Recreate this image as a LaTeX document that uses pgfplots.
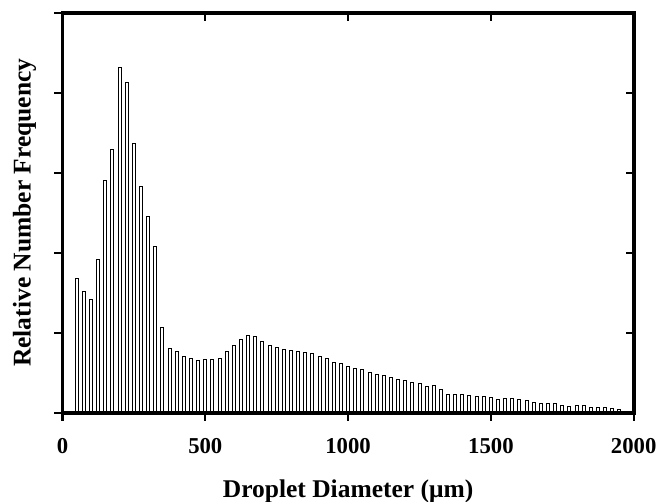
\documentclass[border=0pt]{standalone}
\usepackage{fontspec}
\setmainfont{Liberation Serif}
\usepackage{pgfplots}
\pgfplotsset{compat=1.18}
\usepackage{pgfplotstable}

% droplet size histogram, bins of 25 um
\pgfplotstableread{
d f
50 1.68
75 1.52
100 1.42
125 1.91
150 2.90
175 3.29
200 4.32
225 4.13
250 3.37
275 2.83
300 2.45
325 2.08
350 1.07
375 0.80
400 0.77
425 0.70
450 0.68
475 0.65
500 0.66
525 0.67
550 0.68
575 0.77
600 0.84
625 0.91
650 0.97
675 0.95
700 0.89
725 0.84
750 0.82
775 0.79
800 0.78
825 0.77
850 0.75
875 0.74
900 0.70
925 0.68
950 0.63
975 0.62
1000 0.58
1025 0.55
1050 0.54
1075 0.50
1100 0.475
1125 0.46
1150 0.44
1175 0.41
1200 0.40
1225 0.38
1250 0.37
1275 0.33
1300 0.34
1325 0.29
1350 0.23
1375 0.225
1400 0.225
1425 0.21
1450 0.20
1475 0.20
1500 0.19
1525 0.17
1550 0.175
1575 0.175
1600 0.165
1625 0.155
1650 0.13
1675 0.12
1700 0.11
1725 0.11
1750 0.09
1775 0.075
1800 0.095
1825 0.085
1850 0.07
1875 0.065
1900 0.07
1925 0.055
1950 0.035
}\droplets

\pgfplotsset{
  frame/.style={
    scale only axis,
    width=285.6bp, height=200bp,
    at={(0,0)}, anchor=south west,
    xmin=0, xmax=2000, ymin=0, ymax=5,
    xtick={0,500,...,2000},
    ytick={0,1,...,5},
    axis line style={line width=1.8bp},
    major tick length=4bp,
    every tick/.style={black, line width=1.1bp},
  }
}

\begin{document}
\begin{tikzpicture}
\useasboundingbox (-31.25bp,-44.65bp) rectangle (296.75bp,206.35bp);
\begin{axis}[
  frame,
  tick align=outside,
  xtick pos=left, ytick pos=left,
  yticklabels={},
  /pgf/number format/assume math mode=true,
  /pgf/number format/1000 sep={},
  xticklabel style={font=\fontsize{11.4}{13}\selectfont\bfseries, yshift=-5.5bp},
  xlabel={Droplet Diameter (μm)},
  ylabel={Relative Number Frequency},
  xlabel style={font=\fontsize{12.8}{15}\selectfont\bfseries,
    at={(axis description cs:0.5,0)}, anchor=center, yshift=-39.2bp},
  ylabel style={font=\fontsize{12.8}{15}\selectfont\bfseries,
    at={(axis description cs:0,0.5)}, anchor=center, yshift=19bp},
  ybar, bar width=1.5bp, bar shift=0pt,
]
\addplot[draw=black, fill=white, line width=0.5bp] table[x=d, y=f] {\droplets};
\end{axis}
\begin{axis}[
  frame,
  tick align=inside,
  xtick pos=right, ytick pos=right,
  xticklabels={}, yticklabels={},
]
\end{axis}
\end{tikzpicture}
\end{document}
